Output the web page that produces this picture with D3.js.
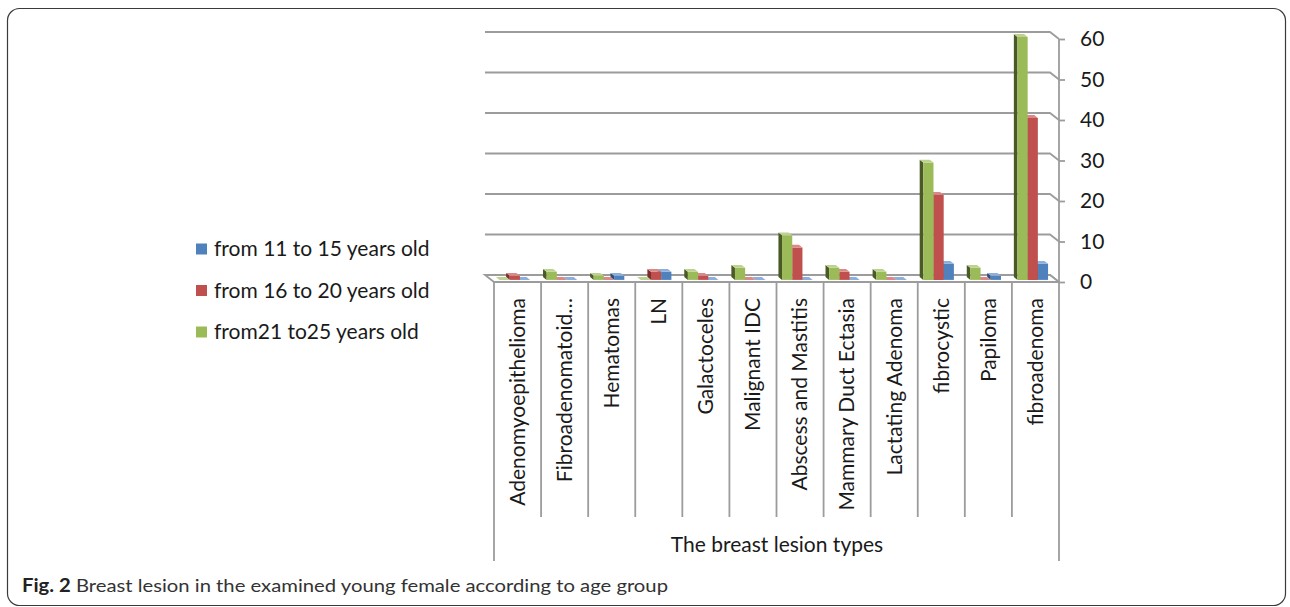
<!DOCTYPE html>
<html>
<head>
<meta charset="utf-8">
<script src="https://cdn.jsdelivr.net/npm/d3@7"></script>
<style>
  html, body { margin: 0; padding: 0; background: #fff; }
  svg { display: block; }
  text { font-family: Lato, "Open Sans", sans-serif; fill: #1a1a1a; }
</style>
</head>
<body>
<svg id="chart" width="1290" height="607"></svg>
<script>
// Lesion types along the category axis
const categories = [
  "Adenomyoepithelioma", "Fibroadenomatoid…", "Hematomas", "LN", "Galactoceles",
  "Malignant IDC", "Abscess and Mastitis", "Mammary Duct Ectasia",
  "Lactating Adenoma", "fibrocystic", "Papiloma", "fibroadenoma"
];
// Case counts per age group
const age11to15 = [0, 0, 1, 2, 0, 0, 0, 0, 0, 4, 1, 4];
const age16to20 = [1, 0, 0, 2, 1, 0, 8, 2, 0, 21, 0, 40];
const age21to25 = [0, 2, 1, 0, 2, 3, 11, 3, 2, 29, 3, 60];
// Series labels (legend order)
const seriesNames = ["from 11 to 15 years old", "from 16 to 20 years old", "from21 to25 years old"];
// Value axis ticks
const valueTicks = [0, 10, 20, 30, 40, 50, 60];
const axisTitle = "The breast lesion types";
const captionBold = "Fig. 2";
const captionText = " Breast lesion in the examined young female according to age group";

const palette = {
  blue:  { front: "#4F81BD", side: "#2B4D77", top: "#8EAEDB" },
  red:   { front: "#C0504D", side: "#7E2B29", top: "#DA8986" },
  green: { front: "#9BBB59", side: "#4A5A26", top: "#BCD28E" }
};
const series = [
  { name: seriesNames[0], values: age11to15, col: palette.blue },
  { name: seriesNames[1], values: age16to20, col: palette.red },
  { name: seriesNames[2], values: age21to25, col: palette.green }
];
// bars are laid out left to right: oldest group first
const drawOrder = [series[2], series[1], series[0]];

const svg = d3.select("#chart");

// outer rounded frame
svg.append("rect")
  .attr("x", 7.5).attr("y", 8.5).attr("width", 1278).attr("height", 597)
  .attr("rx", 12).attr("ry", 12)
  .attr("fill", "none").attr("stroke", "#3a3a3a").attr("stroke-width", 1.2);

// plot geometry (front plane) and the oblique depth of the 3D box
const left = 494, right = 1059, base = 282, topY = 39;
const depthX = 9, depthY = 7;
const proj = (x, y, t) => [x - depthX * t, y - depthY * t];

const x0 = d3.scaleBand().domain(categories).range([left, right]).paddingInner(0).paddingOuter(0);
const y = d3.scaleLinear().domain([0, 60]).range([base, topY]);
const groupW = x0.bandwidth() * 0.65;
const x1 = d3.scaleBand().domain(drawOrder.map(s => s.name))
  .range([(x0.bandwidth() - groupW) / 2, (x0.bandwidth() + groupW) / 2]);

const gridColor = "#9c9c9c";

// back wall gridlines with the short return onto the right side wall
const grid = svg.append("g").attr("fill", "none").attr("stroke", gridColor).attr("stroke-width", 1.8);
valueTicks.forEach(v => {
  const [bx0, by] = proj(left, y(v), 1);
  const [bx1] = proj(right, y(v), 1);
  grid.append("path").attr("d", d3.line()([[bx0, by], [bx1, by], [right, y(v)]]));
});
// floor outline
const floorPts = [proj(left, base, 1), proj(right, base, 1), [right, base], [left, base]];
svg.append("path")
  .attr("d", d3.line()(floorPts) + "Z")
  .attr("fill", "#fff").attr("stroke", gridColor).attr("stroke-width", 1.8);

// value axis on the right
const yAxis = d3.axisRight(y).tickValues(valueTicks).tickSize(6).tickPadding(15).tickFormat(d3.format("d"));
const ya = svg.append("g").attr("transform", `translate(${right},0)`).call(yAxis);
ya.select(".domain").remove();
ya.selectAll(".tick line").attr("stroke", gridColor).attr("stroke-width", 1.8);
ya.selectAll(".tick text").attr("font-size", 21).attr("fill", "#1a1a1a")
  .attr("font-family", "Lato, 'Open Sans', sans-serif");
svg.append("line").attr("x1", right).attr("x2", right).attr("y1", y(60)).attr("y2", base)
  .attr("stroke", gridColor).attr("stroke-width", 1.8);

// category dividers and labels
const bounds = categories.map(c => x0(c)).concat([right]);
svg.append("g").selectAll("line").data(bounds).join("line")
  .attr("x1", d => d).attr("x2", d => d)
  .attr("y1", base)
  .attr("y2", (d, i) => (i === 0 || i === bounds.length - 1) ? 561 : 517)
  .attr("stroke", gridColor).attr("stroke-width", 1.8);

svg.append("g").selectAll("text").data(categories).join("text")
  .attr("transform", d => `translate(${x0(d) + x0.bandwidth() / 2},298) rotate(-90)`)
  .attr("text-anchor", "end").attr("dy", "0.35em")
  .attr("font-size", 21)
  .text(d => d);

svg.append("text")
  .attr("x", (left + right) / 2 + 0.5).attr("y", 552)
  .attr("text-anchor", "middle").attr("font-size", 21)
  .text(axisTitle);

// 3D columns: front face, left side face and top face
const barsG = svg.append("g");
const bt0 = 0.3, bt1 = 0.7;
const bw = x1.bandwidth();
const items = [];
categories.forEach((c, ci) => {
  drawOrder.forEach(s => items.push({ cat: c, s, v: s.values[ci] }));
});
// paint right to left so nearer faces cover hidden side faces
items.reverse().forEach(d => {
  const xa = x0(d.cat) + x1(d.s.name);
  const xb = xa + bw;
  const yt = y(d.v), yb = y(0);
  const fA = proj(xa, yt, bt0), fB = proj(xb, yt, bt0), fC = proj(xb, yb, bt0), fD = proj(xa, yb, bt0);
  const kA = proj(xa, yt, bt1), kB = proj(xb, yt, bt1), kD = proj(xa, yb, bt1);
  const g = barsG.append("g");
  g.append("path").attr("d", d3.line()([fA, kA, kD, fD]) + "Z").attr("fill", d.s.col.side);
  g.append("path").attr("d", d3.line()([fA, fB, fC, fD]) + "Z").attr("fill", d.s.col.front);
  g.append("path").attr("d", d3.line()([fA, fB, kB, kA]) + "Z").attr("fill", d.s.col.top);
});

// legend
const legend = svg.append("g");
series.forEach((s, i) => {
  const cy = 249 + i * 41.5;
  legend.append("rect").attr("x", 196).attr("y", cy - 5.5).attr("width", 11).attr("height", 11)
    .attr("fill", s.col.front);
  legend.append("text").attr("x", 214).attr("y", cy + 7).attr("font-size", 21).text(s.name);
});

// figure caption
const cap = svg.append("text").attr("x", 22).attr("y", 592).attr("font-size", 18)
  .attr("textLength", 646).attr("lengthAdjust", "spacingAndGlyphs");
cap.append("tspan").attr("font-weight", "bold").attr("fill", "#222").text(captionBold);
cap.append("tspan").attr("fill", "#333").text(captionText);
</script>
</body>
</html>
